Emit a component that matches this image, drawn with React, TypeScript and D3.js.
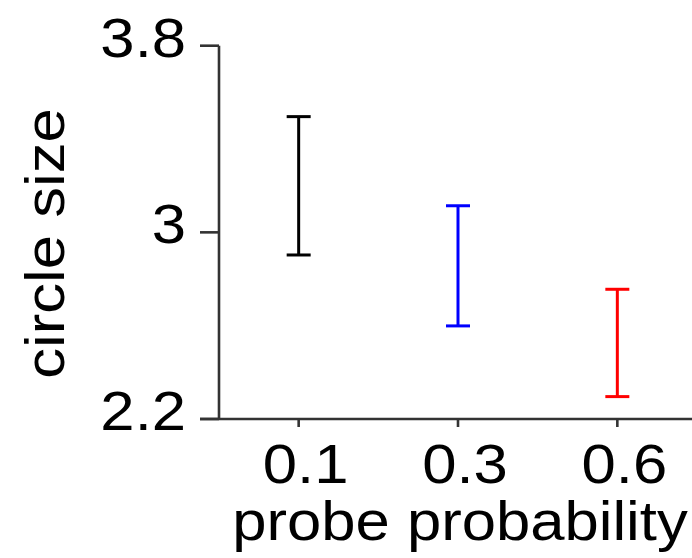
import React from "react";
import * as d3 from "d3";

// Probe probability conditions and the interval on circle size for each
const categories = ["0.1", "0.3", "0.6"];
const lower = [2.903, 2.599, 2.296];
const upper = [3.496, 3.114, 2.756];
const colors = ["#000000", "#0000ff", "#ff0000"];
const yTicks = [2.2, 3, 3.8];
const yTickLabels = ["2.2", "3", "3.8"];

const W = 692;
const H = 558;
const FONT = "'Liberation Sans', Arial, Helvetica, sans-serif";
const AXIS = "#333333";
const SX = 1.1; // slight horizontal widening of the glyphs

export default function App() {
  const x = d3.scalePoint<string>().domain(categories).range([219, 697]).padding(0.5);
  const y = d3.scaleLinear().domain([2.2, 3.8]).range([419, 45.7]);
  const capHalf = 12;

  return (
    <svg
      width={W}
      height={H}
      style={{ position: "absolute", left: 0, top: 0, background: "#fff" }}
      fontFamily={FONT}
    >
      {/* y axis */}
      <line x1={219} x2={219} y1={y(3.8)} y2={y(2.2)} stroke={AXIS} strokeWidth={2.6} />
      {yTicks.map((t, i) => (
        <g key={"yt" + i}>
          <line x1={200} x2={219} y1={y(t)} y2={y(t)} stroke={AXIS} strokeWidth={2.6} />
          <g transform={`translate(186,${y(t) + 11}) scale(${SX},1)`}>
            <text textAnchor="end" fontSize={56} fill="#000">
              {yTickLabels[i]}
            </text>
          </g>
        </g>
      ))}

      {/* x axis */}
      <line x1={200} x2={697} y1={419} y2={419} stroke={AXIS} strokeWidth={2.6} />
      {categories.map((c) => (
        <g key={"xt" + c}>
          <line x1={x(c)!} x2={x(c)!} y1={419} y2={427} stroke={AXIS} strokeWidth={2.6} />
          <g transform={`translate(${x(c)! + 7},483) scale(${SX},1)`}>
            <text textAnchor="middle" fontSize={56} fill="#000">
              {c}
            </text>
          </g>
        </g>
      ))}

      {/* error bars */}
      {categories.map((c, i) => {
        const cx = x(c)!;
        return (
          <g key={"eb" + c} stroke={colors[i]} strokeWidth={3}>
            <line x1={cx} x2={cx} y1={y(upper[i])} y2={y(lower[i])} />
            <line x1={cx - capHalf} x2={cx + capHalf} y1={y(upper[i])} y2={y(upper[i])} />
            <line x1={cx - capHalf} x2={cx + capHalf} y1={y(lower[i])} y2={y(lower[i])} />
          </g>
        );
      })}

      {/* axis titles */}
      <g transform={`translate(460,540) scale(${SX},1)`}>
        <text textAnchor="middle" fontSize={56} fill="#000">
          probe probability
        </text>
      </g>
      <g transform={`translate(63.5,243.5) rotate(-90) scale(${SX},1)`}>
        <text textAnchor="middle" fontSize={56} fill="#000">
          circle size
        </text>
      </g>
    </svg>
  );
}
